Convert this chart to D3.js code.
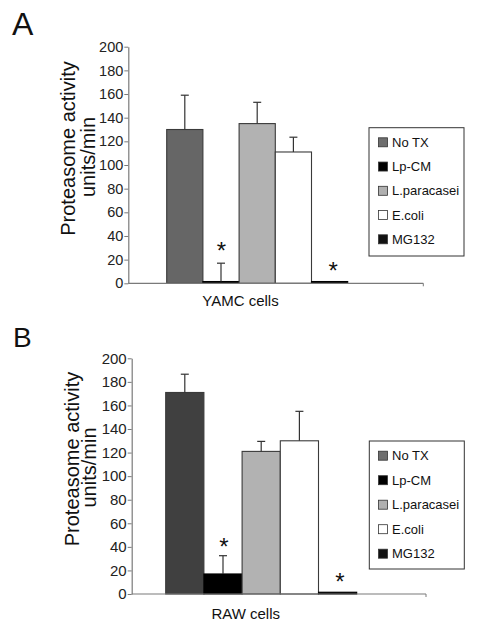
<!DOCTYPE html>
<html>
<head>
<meta charset="utf-8">
<script src="https://cdn.jsdelivr.net/npm/d3@7"></script>
<style>
html,body{margin:0;padding:0;background:#fff;}
svg{display:block;font-family:"Liberation Sans",Arial,sans-serif;}
</style>
</head>
<body>
<svg id="chart" width="477" height="627"></svg>
<script>
// ---- data ----
const seriesNames = ["No TX", "Lp-CM", "L.paracasei", "E.coli", "MG132"];
const yamcValues = [130, 1.5, 135, 111, 1.5];
const yamcErrors = [159, 17, 153, 123.5, null];
const yamcStars = [false, true, false, false, true];
const rawValues = [171, 17, 121, 130, 1.5];
const rawErrors = [186.5, 32.5, 129.5, 155, null];
const rawStars = [false, true, false, false, true];
const yTicks = [0, 20, 40, 60, 80, 100, 120, 140, 160, 180, 200];
const yAxisTitle = ["Proteasome activity", "units/min"];

// ---- styles / layout ----
const legendColors = ["#6e6e6e", "#000000", "#b0b0b0", "#ffffff", "#111111"];
const svg = d3.select("#chart");

function drawPanel(cfg) {
  const g = svg.append("g");
  const y = d3.scaleLinear().domain([0, 200]).range([cfg.y0, cfg.yTop]);
  const x = d3.scaleBand().domain(seriesNames).range([cfg.barX0, cfg.barX1]).padding(0);

  // panel letter
  g.append("text").attr("x", cfg.letterX).attr("y", cfg.letterY)
    .attr("font-size", cfg.letterSize).attr("fill", "#111").text(cfg.letter);

  // bars
  g.selectAll("rect.bar").data(cfg.values).enter().append("rect")
    .attr("class", "bar")
    .attr("x", (d, i) => x(seriesNames[i]))
    .attr("width", x.bandwidth())
    .attr("y", d => y(d))
    .attr("height", d => cfg.y0 - y(d))
    .attr("fill", (d, i) => cfg.barColors[i])
    .attr("stroke", (d, i) => cfg.barColors[i] === "#000000" ? "#000" : "#3a3a3a")
    .attr("stroke-width", 1.1);

  // error bars
  cfg.errors.forEach((e, i) => {
    if (e == null) return;
    const cx = x(seriesNames[i]) + x.bandwidth() / 2;
    g.append("line").attr("x1", cx).attr("x2", cx)
      .attr("y1", y(cfg.values[i])).attr("y2", y(e))
      .attr("stroke", "#333").attr("stroke-width", 1.2);
    g.append("line").attr("x1", cx - 4).attr("x2", cx + 4)
      .attr("y1", y(e)).attr("y2", y(e))
      .attr("stroke", "#333").attr("stroke-width", 1.2);
  });

  // stars
  cfg.stars.forEach((s, i) => {
    if (!s) return;
    const cx = x(seriesNames[i]) + x.bandwidth() / 2 + cfg.starDx[i];
    g.append("text").attr("x", cx).attr("y", cfg.starY[i])
      .attr("text-anchor", "middle").attr("font-size", 24).attr("fill", "#111").text("*");
  });

  // y axis
  const ax = g.append("g").attr("transform", `translate(${cfg.axisX},0)`)
    .call(d3.axisLeft(y).tickValues(yTicks).tickSize(4).tickPadding(1).tickSizeOuter(0));
  ax.select(".domain").attr("stroke", "#7a7a7a").attr("stroke-width", 1.2);
  ax.selectAll(".tick line").attr("stroke", "#7a7a7a");
  ax.selectAll(".tick text").attr("font-size", cfg.tickSize).attr("fill", "#222")
    .attr("font-family", "Liberation Sans, Arial, sans-serif");

  // x axis line
  g.append("line").attr("x1", cfg.axisX).attr("x2", cfg.xEnd)
    .attr("y1", cfg.y0).attr("y2", cfg.y0).attr("stroke", "#7a7a7a").attr("stroke-width", 1.2);
  g.append("line").attr("x1", cfg.xEnd).attr("x2", cfg.xEnd)
    .attr("y1", cfg.y0).attr("y2", cfg.y0 + 3).attr("stroke", "#7a7a7a");

  // x label
  g.append("text").attr("x", cfg.xLabelX).attr("y", cfg.xLabelY)
    .attr("text-anchor", "middle").attr("font-size", 15).attr("fill", "#111").text(cfg.xLabel);

  // y titles
  yAxisTitle.forEach((t, k) => {
    g.append("text")
      .attr("transform", `translate(${cfg.titleX[k]},${cfg.titleY[k]}) rotate(-90)`)
      .attr("text-anchor", "middle").attr("dominant-baseline", "central")
      .attr("font-size", 20).attr("fill", "#111").text(t);
  });

  // legend
  const lb = cfg.legendBox;
  g.append("rect").attr("x", lb[0]).attr("y", lb[1]).attr("width", lb[2] - lb[0]).attr("height", lb[3] - lb[1])
    .attr("fill", "#fff").attr("stroke", "#333").attr("stroke-width", 1);
  const ly = d3.scalePoint().domain(seriesNames).range([cfg.legendY0, cfg.legendY1]);
  seriesNames.forEach((n, i) => {
    g.append("rect").attr("x", 378.5).attr("y", ly(n) - 4.5).attr("width", 9).attr("height", 9)
      .attr("fill", legendColors[i]).attr("stroke", "#333").attr("stroke-width", 0.8);
    g.append("text").attr("x", 392).attr("y", ly(n)).attr("dominant-baseline", "central")
      .attr("font-size", 13).attr("fill", "#111").text(n);
  });
}

drawPanel({
  letter: "A", letterX: 12, letterY: 35, letterSize: 32,
  values: yamcValues, errors: yamcErrors, stars: yamcStars,
  barColors: ["#666666", "#000000", "#b2b2b2", "#ffffff", "#000000"],
  y0: 283.3, yTop: 46.7, axisX: 128.3, xEnd: 423.3,
  barX0: 166.7, barX1: 347.7,
  starDx: [0, 0.5, 0, 0, 3.5], starY: [0, 259, 0, 0, 279],
  tickSize: 14.5,
  xLabel: "YAMC cells", xLabelX: 240.5, xLabelY: 306,
  titleX: [68, 88], titleY: [148.5, 157],
  legendBox: [369, 127.7, 464, 256], legendY0: 142.3, legendY1: 239.3
});

drawPanel({
  letter: "B", letterX: 13, letterY: 346.7, letterSize: 28,
  values: rawValues, errors: rawErrors, stars: rawStars,
  barColors: ["#404040", "#000000", "#b2b2b2", "#ffffff", "#000000"],
  y0: 594, yTop: 358.3, axisX: 131.7, xEnd: 426,
  barX0: 165.7, barX1: 356.7,
  starDx: [0, 0.8, 0, 0, 2.3], starY: [0, 555, 0, 0, 590],
  tickSize: 15,
  xLabel: "RAW cells", xLabelX: 245.7, xLabelY: 619,
  titleX: [71.7, 89.3], titleY: [459, 467.5],
  legendBox: [369.3, 441, 464.3, 569], legendY0: 455.7, legendY1: 553.7
});
</script>
</body>
</html>
